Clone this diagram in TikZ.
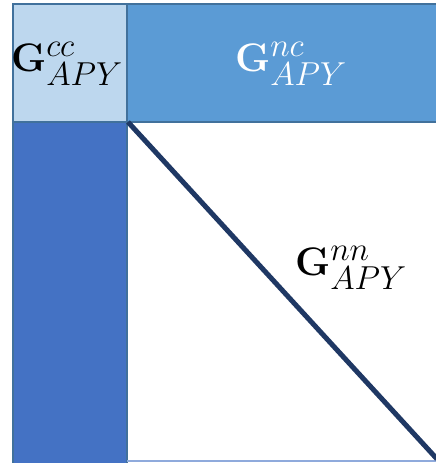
\documentclass[tikz,border=0pt]{standalone}
\usepackage{amsmath}
\usepackage{graphicx}
\definecolor{cellA}{HTML}{BDD7EE}
\definecolor{barB}{HTML}{5B9BD5}
\definecolor{colC}{HTML}{4472C4}
\definecolor{edgeD}{HTML}{41719C}
\definecolor{diagE}{HTML}{1F3864}
\definecolor{lineF}{HTML}{8FAADC}
\newcommand{\bigG}[1]{\scalebox{1.6}{\Huge$\mathbf{G}^{#1}_{APY}$}}
\tikzset{
  blk/.style={draw=edgeD, line width=1.2pt},
  lbl/.style={inner sep=0pt}
}
\begin{document}
\begin{tikzpicture}[x=1pt,y=-1pt]
\useasboundingbox (0,0) rectangle (436,463);
\fill[white] (0,0) rectangle (436,463);
% left column
\fill[colC] (13,122) rectangle (127,463);
\draw[edgeD, line width=1.2pt] (13,122) -- (13,463);
\draw[edgeD, line width=1.2pt] (127,122) -- (127,463);
% top bar
\draw[blk, fill=barB] (127,4) rectangle (437,122);
% top-left cell
\draw[blk, fill=cellA] (13,4) rectangle (127,122);
% bottom line
\coordinate (bl) at (127,461);
\coordinate (br) at (436,461);
\draw[lineF, line width=1.2pt] (bl) -- (br);
% diagonal
\coordinate (d1) at (128,122);
\coordinate (d2) at (437,459);
\draw[diagE, line width=5pt] (d1) -- (d2);
% labels
\node[lbl] (cc) at (67,64) {\bigG{cc}};
\node[lbl, text=white] (nc) at (291,64) {\bigG{nc}};
\node[lbl] (nn) at (351,268) {\bigG{nn}};
\end{tikzpicture}
\end{document}
